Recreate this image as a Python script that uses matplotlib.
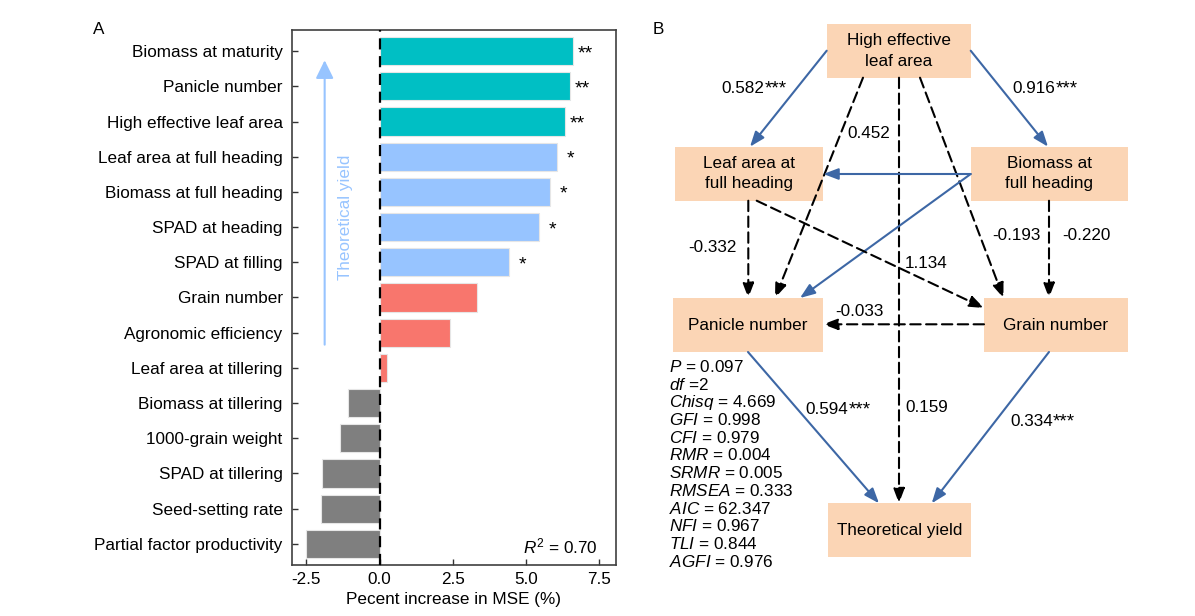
import matplotlib
matplotlib.use('Agg')
import matplotlib.pyplot as plt
from matplotlib.patches import Rectangle

plt.rcParams['font.family'] = ['Liberation Sans', 'DejaVu Sans']
plt.rcParams['mathtext.fontset'] = 'custom'
plt.rcParams['mathtext.rm'] = 'Liberation Sans'
plt.rcParams['mathtext.it'] = 'Liberation Sans:italic'

# panel A data
labels = ['Biomass at maturity', 'Panicle number', 'High effective leaf area',
          'Leaf area at full heading', 'Biomass at full heading', 'SPAD at heading',
          'SPAD at filling', 'Grain number', 'Agronomic efficiency',
          'Leaf area at tillering', 'Biomass at tillering', '1000-grain weight',
          'SPAD at tillering', 'Seed-setting rate', 'Partial factor productivity']
values = [6.59, 6.49, 6.33, 6.05, 5.83, 5.43, 4.41, 3.34, 2.39, 0.26,
          -1.08, -1.36, -1.95, -1.99, -2.51]
signif = ['**', '**', '**', '*', '*', '*', '*', '', '', '', '', '', '', '', '']
groups = [0, 0, 0, 1, 1, 1, 1, 2, 2, 2, 3, 3, 3, 3, 3]
r2 = 0.70

# panel B data
nodes = ['HELA', 'LAFH', 'BFH', 'PN', 'GN', 'TY']
node_names = ['High effective\nleaf area', 'Leaf area at\nfull heading',
              'Biomass at\nfull heading', 'Panicle number', 'Grain number',
              'Theoretical yield']
path_src = ['HELA', 'HELA', 'HELA', 'HELA', 'HELA', 'BFH', 'BFH', 'LAFH', 'LAFH',
            'BFH', 'GN', 'PN', 'GN']
path_dst = ['LAFH', 'BFH', 'PN', 'TY', 'GN', 'LAFH', 'PN', 'PN', 'GN',
            'GN', 'PN', 'TY', 'TY']
path_coef = [0.582, 0.916, 0.452, 0.159, -0.193, None, None, -0.332, 1.134,
             -0.220, -0.033, 0.594, 0.334]
path_sig = ['***', '***', '', '', '', 'sig', 'sig', '', '', '', '', '***', '***']
fit_names = ['P', 'df', 'Chisq', 'GFI', 'CFI', 'RMR', 'SRMR', 'RMSEA', 'AIC',
             'NFI', 'TLI', 'AGFI']
fit_vals = ['= 0.097', '=2', '= 4.669', '= 0.998', '= 0.979', '= 0.004', '= 0.005',
            '= 0.333', '= 62.347', '= 0.967', '= 0.844', '= 0.976']

# layout (pixel coords) for the path diagram
box_xy = {'HELA': (826.7, 24, 970.7, 77.7), 'LAFH': (674.7, 146.7, 823.3, 200.7),
          'BFH': (970.7, 146.7, 1128, 200.7), 'PN': (673, 298, 823, 352),
          'GN': (984, 298, 1128, 352), 'TY': (828.3, 503.3, 970.7, 556.7)}
arrow_xy = [((826.7, 50.7), (750, 146.7)), ((970.7, 50.7), (1048, 146.7)),
            ((863, 77.7), (775, 298)), ((899, 77.7), (899, 503.3)),
            ((920, 77.7), (1003.5, 298)), ((970.7, 174), (823.3, 174)),
            ((970.7, 174), (800, 298)), ((748.3, 200.7), (748.3, 298)),
            ((756.7, 200.7), (984, 308)), ((1049, 200.7), (1049, 298)),
            ((984, 324.3), (823, 324.3)), ((748, 352), (879, 503.3)),
            ((1049, 352), (931.7, 503.3))]
label_xy = [(764.5, 87), (1055.5, 87), (869, 133), (927, 408), (1016, 236),
            None, None, (712, 248), (926.5, 264), (1086, 236), (859, 311),
            (848.5, 408), (1052.7, 420)]

teal = '#00BFC4'
lblue = '#97C4FF'
salmon = '#F8766D'
grey = '#7F7F7F'
group_cols = [teal, lblue, salmon, grey]
box_col = '#FBD5B5'
path_blue = '#3D67A5'
fs = 12.3

fig = plt.figure(figsize=(11.95, 6.16), dpi=100)

# ---- panel A ----
ax = fig.add_axes([0.2441, 0.0828, 0.2714, 0.8685])
ypos = list(range(len(labels)))
ax.barh(ypos, values, height=0.8, color=[group_cols[g] for g in groups],
        edgecolor='#e6e6e6', linewidth=0.8, zorder=2)
ax.axvline(0, color='black', lw=1.6, ls=(0, (5, 3)), zorder=3)
ax.set_xlim(-3, 8.07)
ax.set_ylim(14.6, -0.6)
ax.set_yticks(ypos)
ax.set_yticklabels(labels, fontsize=fs)
ax.set_xticks([-2.5, 0, 2.5, 5, 7.5])
ax.set_xticklabels(['-2.5', '0.0', '2.5', '5.0', '7.5'], fontsize=fs)
ax.tick_params(axis='both', direction='in', length=4, width=1, color='#333333')
ax.tick_params(axis='y', pad=6.5)
ax.tick_params(axis='x', pad=5)
for s in ax.spines.values():
    s.set_color('#404040')
    s.set_linewidth(1.2)
ax.set_xlabel('Pecent increase in MSE (%)', fontsize=fs, labelpad=4)

for i in range(len(values)):
    if signif[i]:
        off = 3.5 if len(signif[i]) == 2 else 7
        ax.annotate(signif[i], xy=(values[i], i), xytext=(off, -5),
                    textcoords='offset points', ha='left', va='baseline', fontsize=14)

ax.annotate('', xy=(-1.875, 0.26), xytext=(-1.875, 8.34),
            arrowprops=dict(arrowstyle='-|>,head_length=0.55,head_width=0.27',
                            mutation_scale=20, color=lblue, lw=1.5,
                            shrinkA=0, shrinkB=0))
ax.text(-1.17, 4.73, 'Theoretical yield', rotation=90, color=lblue,
        ha='center', va='center', fontsize=fs)
ax.text(0.944, 0.034, r'$\mathit{R}^{\mathrm{2}}$ = %.2f' % r2, transform=ax.transAxes,
        ha='right', va='center', fontsize=fs)

# ---- panel B ----
axb = fig.add_axes([0, 0, 1, 1])
axb.set_xlim(0, 1195)
axb.set_ylim(616, 0)
axb.axis('off')
axb.patch.set_visible(False)

axb.text(93, 30, 'A', fontsize=fs, ha='left', va='center')
axb.text(653, 30, 'B', fontsize=fs, ha='left', va='center')

for n, name in zip(nodes, node_names):
    x0, y0, x1, y1 = box_xy[n]
    axb.add_patch(Rectangle((x0, y0), x1 - x0, y1 - y0, facecolor=box_col,
                            edgecolor='none', zorder=1))
    axb.text((x0 + x1) / 2, (y0 + y1) / 2, name, ha='center', va='center',
             multialignment='center', fontsize=fs, zorder=4, linespacing=1.45)

for k in range(len(path_src)):
    start, end = arrow_xy[k]
    solid = path_sig[k] != ''
    col = path_blue if solid else 'black'
    ls = '-' if solid else (0, (5, 2.6))
    axb.annotate('', xy=end, xytext=start,
                 arrowprops=dict(arrowstyle='-|>,head_length=0.45,head_width=0.17',
                                 mutation_scale=20, color=col, lw=1.5, linestyle=ls,
                                 shrinkA=0, shrinkB=0), zorder=3)
    if path_coef[k] is None:
        continue
    lx, ly = label_xy[k]
    txt = '%.3f' % path_coef[k]
    if path_sig[k] == '***':
        axb.text(lx, ly + 6, txt, ha='right', va='baseline', fontsize=fs, zorder=5)
        axb.text(lx, ly + 6, '***', ha='left', va='baseline', fontsize=13.5, zorder=5)
    else:
        axb.text(lx, ly, txt, ha='center', va='center', fontsize=fs, zorder=5)

for i in range(len(fit_names)):
    axb.text(669, 367 + i * 17.7, r'$\mathit{%s}$ %s' % (fit_names[i], fit_vals[i]),
             ha='left', va='center', fontsize=fs)

fig.savefig('out.png', dpi=100)
